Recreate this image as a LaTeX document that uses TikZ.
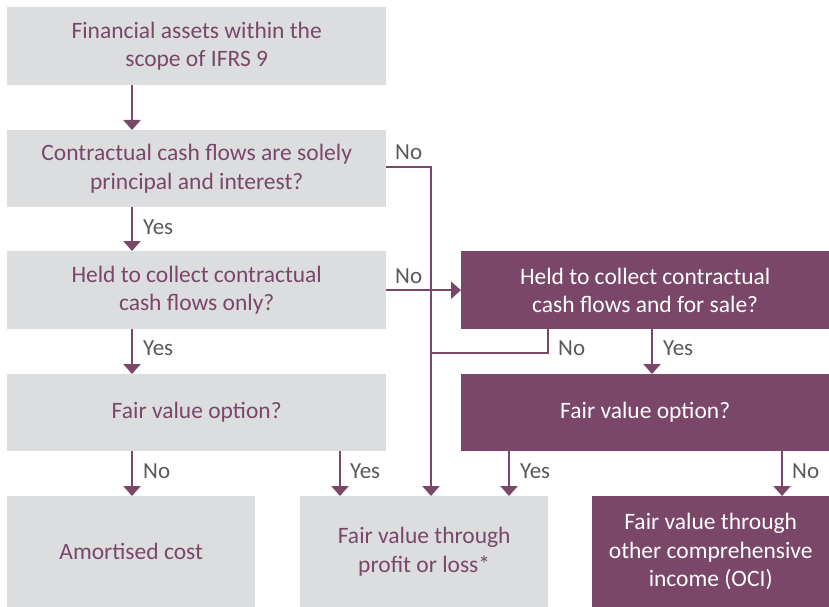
\documentclass[tikz,border=0pt]{standalone}
\usepackage{fontspec}
\setmainfont{Carlito}
\usetikzlibrary{arrows.meta,calc}
\definecolor{boxgray}{HTML}{DCDDDF}
\definecolor{plum}{HTML}{7A4769}
\definecolor{labgray}{HTML}{595959}
\tikzset{
  gbox/.style={draw=none,fill=boxgray,text=plum,anchor=north west,align=center,inner sep=0pt,font=\fontsize{23.5}{28.5}\selectfont},
  pbox/.style={draw=none,fill=plum,text=white,anchor=north west,align=center,inner sep=0pt,font=\fontsize{23.5}{28.5}\selectfont},
  conn/.style={draw=plum,line width=2.5pt},
  arr/.style={conn,-{Triangle[width=17pt,length=10pt]}},
  lab/.style={text=labgray,anchor=west,inner sep=0pt,font=\fontsize{23}{26}\selectfont}
}
\begin{document}
\begin{tikzpicture}[x=1pt,y=-1pt]
\path[use as bounding box] (0,0) rectangle (829,607);
\node[gbox,minimum width=379pt,minimum height=78pt] (b1) at (7,7) {Financial assets within the\\scope of IFRS 9};
\node[gbox,minimum width=379pt,minimum height=77pt] (b2) at (7,130) {Contractual cash flows are solely\\principal and interest?};
\node[gbox,minimum width=379pt,minimum height=78pt] (b3) at (7,251) {Held to collect contractual\\cash flows only?};
\node[gbox,minimum width=379pt,minimum height=77pt] (b4) at (7,374) {Fair value option?};
\node[gbox,minimum width=248pt,minimum height=111pt] (b5) at (7,496) {Amortised cost};
\node[gbox,minimum width=248pt,minimum height=111pt] (b6) at (300,496) {Fair value through\\profit or loss*};
\node[pbox,minimum width=368pt,minimum height=78pt] (b7) at (461,251) {Held to collect contractual\\cash flows and for sale?};
\node[pbox,minimum width=368pt,minimum height=77pt] (b8) at (461,374) {Fair value option?};
\node[pbox,minimum width=237pt,minimum height=111pt] (b9) at (592,496) {Fair value through\\other comprehensive\\income (OCI)};
% guide coordinates
\coordinate (xl) at (132,0);
\coordinate (xm) at (340,0);
\coordinate (xv) at (431,0);
\coordinate (xa) at (509,0);
\coordinate (xn) at (548,0);
\coordinate (xy) at (652,0);
\coordinate (xo) at (782,0);
\coordinate (j1) at (431,167);
\coordinate (j2) at (431,353);
% connectors
\draw[arr] (b1.south -| xl) -- (b2.north -| xl);
\draw[arr] (b2.south -| xl) -- (b3.north -| xl);
\draw[arr] (b3.south -| xl) -- (b4.north -| xl);
\draw[arr] (b4.south -| xl) -- (b5.north -| xl);
\draw[arr] (b4.south -| xm) -- (b6.north -| xm);
\draw[arr] (b2.east |- j1) -- (j1) -- (b6.north -| xv);
\draw[arr] (b3.east) -- (b7.west);
\draw[conn] (b7.south -| xn) |- (j2);
\draw[arr] (b7.south -| xy) -- (b8.north -| xy);
\draw[arr] (b8.south -| xa) -- (b6.north -| xa);
\draw[arr] (b8.south -| xo) -- (b9.north -| xo);
% labels
\node[lab] (l1) at (143,227) {Yes};
\node[lab] (l2) at (143,348) {Yes};
\node[lab] (l3) at (143,471) {No};
\node[lab] (l4) at (350,471) {Yes};
\node[lab] (l5) at (395,152) {No};
\node[lab] (l6) at (395,276) {No};
\node[lab] (l7) at (558,348) {No};
\node[lab] (l8) at (663,348) {Yes};
\node[lab] (l9) at (520,471) {Yes};
\node[lab] (l10) at (792,471) {No};
\end{tikzpicture}
\end{document}
